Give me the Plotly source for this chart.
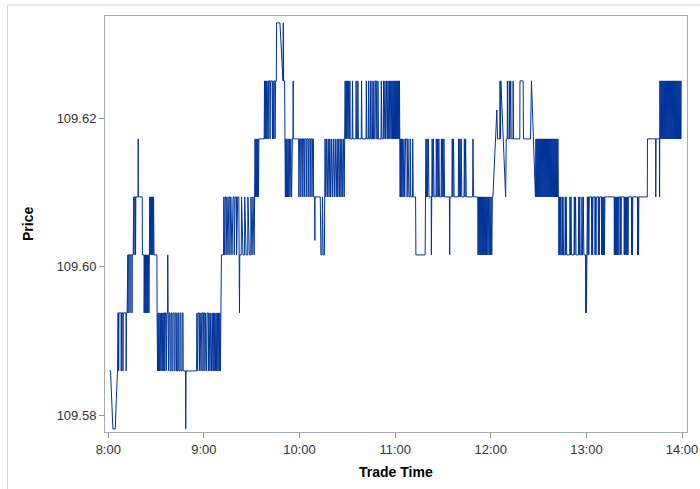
import plotly.graph_objects as go

# Price levels are stored in ticks of 1/128 above the session low
BASE_PRICE = 109.578125
TICK_SIZE = 0.0078125

# (minutes after 8:00, price level in ticks)
SEG_08 = [
    (0.6, 1), (1.4, 1), (2.9, 0), (4.4, 0), (5.0, 0.5), (5.4, 1), (5.8, 1), (6.0, 2), (6.4, 2), (6.5, 1), (6.7, 2),
    (8.0, 2), (8.1, 1), (8.3, 2), (9.1, 2), (9.2, 1), (9.4, 2), (11.1, 2), (11.2, 1), (11.4, 2), (11.8, 2), (11.9, 3),
    (12.3, 3), (12.4, 2), (12.6, 3), (13.5, 3), (13.6, 2), (13.8, 3), (14.8, 3), (14.9, 2), (15.0, 3), (15.6, 3),
    (15.7, 4), (16.0, 4), (16.1, 3), (16.3, 4), (17.0, 4), (17.1, 3), (17.3, 4), (18.7, 4), (18.75, 5), (18.8, 4),
    (21.3, 4), (21.4, 3), (22.4, 3), (22.5, 2), (22.8, 3), (23.1, 2), (23.4, 3), (23.7, 2), (24.0, 3), (24.3, 2),
    (24.6, 3), (24.9, 2), (25.2, 3), (25.5, 2), (25.8, 3), (26.0, 4), (26.3, 3), (26.6, 4), (26.9, 3), (27.2, 4),
    (27.5, 3), (27.8, 4), (28.1, 3), (28.4, 4), (28.7, 3), (30.5, 3), (30.6, 2), (30.9, 1), (31.2, 2), (31.5, 1),
    (31.8, 2), (32.2, 1), (32.6, 2), (33.0, 1), (33.4, 2), (33.8, 1), (34.2, 2), (34.5, 1), (34.8, 2), (35.3, 2),
    (35.4, 1), (35.8, 2), (36.3, 2), (36.4, 1), (36.8, 2), (37.2, 2), (37.3, 3), (37.4, 2), (37.8, 1), (38.2, 2),
    (38.7, 2), (38.8, 1), (39.3, 1), (39.4, 2), (39.9, 2), (40.0, 1), (40.5, 1), (40.6, 2), (41.3, 2), (41.4, 1),
    (41.9, 1), (42.0, 2), (42.7, 2), (42.8, 1), (43.5, 1), (43.6, 2), (44.1, 2), (44.2, 1), (44.9, 1), (45.0, 2),
    (45.5, 2), (45.6, 1), (46.3, 1), (46.4, 2), (46.9, 2), (47.0, 1), (48.4, 1), (48.6, 0), (48.8, 1), (55.4, 1),
    (55.6, 2), (56.0, 1), (56.4, 2), (57.1, 2), (57.2, 1), (57.6, 2), (58.2, 1), (58.6, 2), (59.3, 2), (59.4, 1),
    (59.8, 2),
]

SEG_09 = [
    (60.5, 2), (60.6, 1), (61.0, 2), (61.6, 1), (62.0, 2), (62.7, 2), (62.8, 1), (63.2, 2), (63.8, 1), (64.2, 2),
    (64.8, 1), (65.2, 2), (65.7, 1), (66.0, 2), (66.4, 1), (66.8, 2), (67.2, 1), (67.6, 2), (68.0, 1), (68.4, 2),
    (68.8, 1), (69.2, 2), (69.6, 1), (70.0, 2), (70.3, 1), (70.6, 2), (70.9, 2), (71.0, 3), (72.3, 3), (72.5, 4),
    (72.9, 3), (73.3, 4), (73.8, 4), (73.9, 3), (74.5, 4), (75.1, 3), (75.6, 4), (76.2, 4), (76.3, 3), (76.9, 4),
    (77.6, 3), (78.3, 4), (78.9, 4), (79.0, 3), (79.6, 4), (80.4, 4), (80.5, 3), (81.2, 4), (81.9, 4), (82.0, 3),
    (82.3, 2), (82.5, 3), (83.4, 3), (83.6, 4), (84.5, 3), (85.5, 3), (85.6, 4), (86.5, 3), (87.5, 3), (87.6, 4),
    (88.5, 3), (89.4, 3), (89.5, 4), (90.2, 3), (90.8, 4), (91.5, 3), (91.8, 4), (92.0, 4), (92.1, 5), (92.4, 4),
    (92.7, 5), (93.0, 4), (93.3, 5), (93.6, 4), (93.9, 5), (94.2, 4), (94.5, 5), (97.8, 5), (98.0, 6), (98.3, 5),
    (98.6, 6), (98.9, 5), (99.2, 6), (99.5, 5), (99.8, 6), (100.2, 6), (100.3, 5), (100.6, 6), (101.3, 6), (101.5, 5),
    (101.8, 6), (102.8, 6), (103.0, 5), (103.3, 6), (103.6, 5), (104.0, 6), (104.5, 6), (104.6, 5), (105.0, 6),
    (105.4, 6), (105.6, 7), (107.7, 7), (109.6, 6), (109.8, 7), (110.0, 6), (110.6, 6), (110.8, 5), (111.1, 4),
    (111.4, 5), (111.7, 4), (112.0, 5), (112.4, 4), (112.8, 5), (113.2, 4), (113.6, 5), (114.0, 4), (114.5, 5),
    (115.0, 4), (115.5, 5), (115.9, 5), (116.0, 6), (116.1, 5), (119.4, 5),
]

SEG_10 = [
    (119.6, 4), (120.0, 5), (120.7, 5), (120.8, 4), (121.2, 5), (121.9, 5), (122.0, 4), (122.4, 5), (122.9, 5),
    (123.0, 4), (123.4, 5), (124.1, 5), (124.2, 4), (124.6, 5), (125.3, 5), (125.4, 4), (125.8, 5), (126.5, 5),
    (126.6, 4), (127.0, 5), (127.7, 5), (127.8, 4), (128.2, 5), (128.7, 5), (128.8, 4), (129.5, 4), (129.6, 3.25),
    (129.7, 4), (133.0, 4), (133.4, 3), (134.0, 3), (134.4, 4), (134.8, 3), (135.6, 3), (135.8, 4), (136.0, 5),
    (136.4, 4), (137.0, 5), (137.4, 4), (138.0, 5), (138.5, 4), (139.0, 5), (139.5, 4), (140.0, 5), (140.6, 4),
    (141.2, 5), (141.8, 4), (142.4, 5), (143.0, 4), (143.6, 5), (144.0, 4), (144.5, 5), (145.0, 4), (145.5, 5),
    (146.0, 4), (146.5, 5), (147.0, 4), (147.5, 5), (148.0, 4), (148.4, 5), (148.6, 6), (149.0, 5), (149.3, 6),
    (149.6, 5), (150.0, 6), (150.4, 5), (150.8, 6), (151.2, 5), (151.6, 6), (151.8, 5), (153.0, 5), (153.2, 6),
    (153.5, 5), (155.3, 5), (155.5, 6), (155.8, 5), (156.4, 5), (156.6, 6), (156.9, 5), (158.7, 5), (158.9, 6),
    (159.2, 5), (161.7, 5), (161.9, 6), (162.2, 5), (163.1, 5), (163.3, 6), (163.6, 5), (164.2, 5), (164.4, 6),
    (164.7, 5), (165.3, 5), (165.5, 6), (165.8, 5), (166.4, 5), (166.6, 6), (166.9, 5), (167.4, 5), (167.6, 6),
    (168.2, 6), (168.4, 5), (169.0, 5), (169.2, 6), (169.5, 5), (171.1, 5), (171.3, 6), (171.6, 5), (172.5, 5),
    (172.7, 6), (173.0, 5), (173.6, 6), (174.0, 5), (174.6, 6), (175.0, 5), (175.5, 6), (175.9, 5), (176.3, 6),
    (176.7, 5), (177.1, 6), (177.5, 5), (177.9, 6), (178.3, 5), (178.6, 6), (178.9, 5), (179.2, 6), (179.5, 5),
    (179.8, 6),
]

SEG_11 = [
    (180.1, 5), (180.4, 6), (180.7, 5), (181.0, 6), (181.3, 5), (181.6, 6), (181.9, 5), (182.2, 6), (182.5, 5),
    (182.7, 6), (182.9, 5), (183.1, 4), (183.3, 5), (183.6, 4), (183.9, 5), (184.2, 4), (184.5, 5), (185.0, 4),
    (185.5, 5), (186.0, 4), (186.5, 5), (187.4, 5), (187.5, 4), (188.0, 5), (188.6, 4), (189.3, 4), (189.4, 5),
    (189.8, 4), (190.9, 4), (191.0, 5), (191.3, 4), (192.8, 4), (193.0, 3), (198.8, 3), (199.0, 4), (199.3, 5),
    (199.6, 4), (200.0, 5), (200.3, 4), (200.8, 5), (201.2, 4), (202.6, 4), (202.7, 3), (202.9, 4), (203.2, 5),
    (203.6, 4), (204.0, 5), (204.4, 4), (205.6, 4), (205.8, 5), (206.2, 4), (206.6, 5), (207.0, 4), (207.4, 5),
    (207.8, 4), (208.8, 4), (209.0, 5), (209.4, 4), (209.8, 5), (210.2, 4), (210.6, 5), (211.0, 4), (214.0, 4),
    (214.2, 3), (214.4, 4), (215.6, 4), (215.8, 5), (216.2, 4), (216.6, 5), (217.0, 4), (219.6, 4), (219.8, 5),
    (220.2, 4), (220.6, 5), (221.0, 4), (221.4, 5), (221.8, 4), (223.2, 4), (223.4, 5), (223.8, 4), (224.2, 5),
    (224.6, 4), (228.6, 4), (228.8, 5), (229.2, 4), (231.8, 4), (232.0, 3), (232.3, 4), (232.6, 3), (232.9, 4),
    (233.2, 3), (233.5, 4), (233.8, 3), (234.1, 4), (234.4, 3), (234.7, 4), (235.0, 3), (235.3, 4), (235.6, 3),
    (235.9, 4), (236.2, 3), (236.5, 4), (236.8, 3), (237.1, 4), (237.4, 3), (237.8, 4), (238.2, 3), (238.6, 4),
    (239.0, 3), (239.4, 4), (239.8, 3),
]

SEG_12 = [
    (240.2, 4), (240.6, 3), (241.0, 4), (241.3, 4), (243.8, 5.5), (244.2, 5), (245.6, 5), (245.8, 6), (246.1, 5),
    (246.3, 6), (249.3, 4), (249.7, 5), (250.3, 5), (250.4, 6), (250.7, 5), (251.5, 5), (251.6, 6), (251.9, 5),
    (252.5, 6), (252.8, 5), (253.9, 5), (254.0, 6), (254.3, 5), (258.2, 5), (258.3, 6), (260.3, 6), (260.5, 5),
    (264.9, 5), (265.2, 6), (265.5, 6), (268.0, 4), (268.3, 5), (268.6, 4), (268.9, 5), (269.2, 4), (269.5, 5),
    (269.8, 4), (270.1, 5), (270.4, 4), (270.7, 5), (271.0, 4), (271.3, 5), (271.6, 4), (271.9, 5), (272.2, 4),
    (272.5, 5), (272.8, 4), (273.1, 5), (273.4, 4), (273.7, 5), (274.0, 4), (274.3, 5), (274.6, 4), (274.9, 5),
    (275.2, 4), (275.5, 5), (275.8, 4), (276.1, 5), (276.4, 4), (276.7, 5), (277.0, 4), (277.3, 5), (277.6, 4),
    (277.9, 5), (278.2, 4), (278.5, 5), (278.8, 4), (279.1, 5), (279.4, 4), (279.7, 5), (280.0, 4), (280.3, 5),
    (280.6, 4), (280.9, 5), (281.2, 4), (281.5, 5), (281.8, 4), (282.1, 5), (282.4, 4), (282.6, 4), (282.7, 3),
    (283.0, 4), (283.3, 3), (283.6, 4), (283.9, 3), (284.5, 3), (284.7, 4), (285.0, 3), (285.3, 4), (285.6, 3),
    (286.5, 3), (286.7, 4), (287.0, 3), (287.3, 4), (287.6, 3), (289.5, 3), (289.7, 4), (290.0, 3), (290.3, 4),
    (290.6, 3), (292.2, 3), (292.4, 4), (292.7, 3), (293.2, 4), (293.5, 3), (295.0, 3), (295.2, 4), (295.5, 3),
    (295.8, 4), (296.1, 3), (297.0, 3), (297.2, 4), (297.6, 3), (298.0, 4), (298.4, 3), (299.5, 3), (299.6, 2),
    (299.8, 3), (300.0, 2), (300.3, 3), (300.6, 4),
]

SEG_13 = [
    (301.0, 3), (301.2, 4), (301.5, 3), (301.8, 4), (303.2, 4), (303.3, 3), (303.6, 4), (303.9, 3), (304.1, 4),
    (305.3, 4), (305.4, 3), (305.7, 4), (306.0, 3), (306.2, 4), (307.4, 4), (307.5, 3), (307.8, 4), (308.1, 3),
    (308.3, 4), (309.4, 4), (309.5, 3), (309.8, 4), (310.1, 3), (310.4, 4), (310.7, 3), (311.0, 4), (311.3, 3),
    (311.6, 4), (317.4, 4), (317.5, 3), (317.8, 4), (318.1, 3), (318.4, 4), (318.7, 3), (319.0, 4), (319.3, 3),
    (319.6, 4), (319.9, 3), (320.1, 4), (321.0, 4), (321.1, 3), (321.4, 4), (321.7, 3), (321.9, 4), (323.6, 4),
    (323.7, 3), (324.0, 4), (324.3, 3), (324.6, 4), (324.9, 3), (325.2, 4), (325.5, 3), (325.8, 4), (326.1, 3),
    (326.3, 4), (328.2, 4), (328.3, 3), (328.6, 4), (328.9, 3), (329.1, 4), (332.0, 4), (332.1, 3), (332.4, 4),
    (332.7, 3), (332.9, 4), (338.2, 4), (338.3, 5), (343.4, 5), (343.5, 4), (343.7, 5), (345.8, 5), (345.9, 4),
    (346.0, 5), (346.1, 6), (346.4, 5), (346.7, 6), (347.0, 5), (347.3, 6), (347.6, 5), (347.9, 6), (348.2, 5),
    (348.5, 6), (348.8, 5), (349.1, 6), (349.4, 5), (349.7, 6), (350.0, 5), (350.3, 6), (350.6, 5), (350.9, 6),
    (351.2, 5), (351.5, 6), (351.8, 5), (352.1, 6), (352.4, 5), (352.7, 6), (353.0, 5), (353.3, 6), (353.6, 5),
    (353.9, 6), (354.2, 5), (354.5, 6), (354.8, 5), (355.1, 6), (355.4, 5), (355.7, 6), (356.0, 5), (356.3, 6),
    (356.6, 5), (356.9, 6), (357.2, 5), (357.5, 6), (357.8, 5), (358.1, 6), (358.4, 5), (358.7, 6), (359.0, 5),
    (359.3, 6), (359.4, 5),
]

X_TICK_MIN = [0, 60, 120, 180, 240, 300, 360]
X_TICK_LABELS = ["8:00", "9:00", "10:00", "11:00", "12:00", "13:00", "14:00"]
Y_TICK_VALUES = [109.58, 109.60, 109.62]
Y_TICK_LABELS = ["109.58", "109.60", "109.62"]

trades = SEG_08 + SEG_09 + SEG_10 + SEG_11 + SEG_12 + SEG_13
trade_min = [t for t, _ in trades]
price = [BASE_PRICE + lvl * TICK_SIZE for _, lvl in trades]

fig = go.Figure(
    go.Scatter(x=trade_min, y=price, mode="lines",
               line=dict(color="#003399", width=1), showlegend=False)
)

FONT = "Liberation Sans, Arial, sans-serif"
axis_common = dict(
    showgrid=False, zeroline=False, showline=True, linecolor="#A6ABB0", linewidth=1,
    mirror=True, ticks="outside", ticklen=5, tickcolor="#8E9398", tickwidth=1,
    tickfont=dict(family=FONT, size=13, color="#333333"), automargin=False,
)

fig.update_layout(
    width=700, height=489, autosize=False,
    margin=dict(l=105, r=13, t=16, b=57, autoexpand=False),
    paper_bgcolor="white", plot_bgcolor="white",
    xaxis=dict(range=[-2.07, 363.1], tickmode="array", tickvals=X_TICK_MIN,
               ticktext=X_TICK_LABELS, **axis_common),
    yaxis=dict(range=[109.57771, 109.63374], tickmode="array", tickvals=Y_TICK_VALUES,
               ticktext=Y_TICK_LABELS, **axis_common),
    annotations=[
        dict(text="<b>Trade Time</b>", xref="paper", yref="paper", x=0.5, y=-0.0954,
             xanchor="center", yanchor="middle", showarrow=False,
             font=dict(family=FONT, size=14, color="#000000")),
        dict(text="<b>Price</b>", xref="paper", yref="paper", x=-0.1323, y=0.5,
             xanchor="center", yanchor="middle", showarrow=False, textangle=-90,
             font=dict(family=FONT, size=14, color="#000000")),
    ],
    shapes=[
        dict(type="rect", xref="paper", yref="paper", x0=-0.1675, y0=-0.3, x1=1.2, y1=1.0264,
             line=dict(color="#D4D4D4", width=1), fillcolor="rgba(0,0,0,0)", layer="below"),
    ],
)

fig.write_html(
    "out.html",
    config={"displayModeBar": False},
    post_script="document.body.style.margin='0';document.body.style.overflow='hidden';",
)
